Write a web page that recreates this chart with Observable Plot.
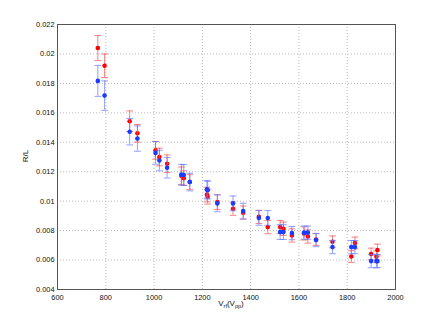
<!DOCTYPE html>
<html>
<head>
<meta charset="utf-8">
<script src="https://cdn.jsdelivr.net/npm/d3@7"></script>
<script src="https://cdn.jsdelivr.net/npm/@observablehq/plot@0.6"></script>
<style>
  html, body { margin: 0; padding: 0; background: #fff; }
  #chart svg { display: block; }
</style>
</head>
<body>
<div id="chart"></div>
<script>
const voltages = [767, 795, 899, 931, 1006, 1022, 1054, 1113, 1123, 1148, 1219, 1222, 1262, 1327, 1369, 1434, 1471, 1522, 1536, 1571, 1621, 1637, 1671, 1739, 1817, 1832, 1899, 1921, 1925];
const redValues = [0.0204, 0.0192, 0.01543, 0.01461, 0.01346, 0.01300, 0.01254, 0.01172, 0.01156, 0.01130, 0.01045, 0.01030, 0.00994, 0.00949, 0.00922, 0.00893, 0.00824, 0.00824, 0.00813, 0.00767, 0.00781, 0.00760, 0.00740, 0.00724, 0.00624, 0.00716, 0.00641, 0.00622, 0.00668];
const blueValues = [0.01817, 0.01717, 0.01472, 0.01425, 0.01328, 0.01276, 0.01227, 0.01180, 0.01178, 0.01130, 0.01080, 0.01075, 0.00985, 0.00985, 0.00933, 0.00886, 0.00886, 0.00790, 0.00790, 0.00783, 0.00786, 0.00786, 0.00736, 0.00688, 0.00688, 0.00688, 0.00593, 0.00593, 0.00593];
const redErrors = [0.00085, 0.0008, 0.0007, 0.0006, 0.0006, 0.0006, 0.0006, 0.0006, 0.0005, 0.0005, 0.0005, 0.0005, 0.0005, 0.00045, 0.00045, 0.00045, 0.00045, 0.00045, 0.00045, 0.00045, 0.00045, 0.00045, 0.0004, 0.0004, 0.0004, 0.0004, 0.0004, 0.0004, 0.0004];
const blueErrors = [0.00105, 0.001, 0.0009, 0.00086, 0.00077, 0.0007, 0.0007, 0.0007, 0.0007, 0.0006, 0.0006, 0.0006, 0.00057, 0.0005, 0.00053, 0.0005, 0.0005, 0.0005, 0.0005, 0.00045, 0.00045, 0.00045, 0.00045, 0.00045, 0.00045, 0.00045, 0.00045, 0.00045, 0.00045];
const xTicks = [600, 800, 1000, 1200, 1400, 1600, 1800, 2000];
const yTicks = [0.004, 0.006, 0.008, 0.01, 0.012, 0.014, 0.016, 0.018, 0.02, 0.022];

const redData = voltages.map((v, i) => ({v, y: redValues[i], e: redErrors[i]}));
const blueData = voltages.map((v, i) => ({v, y: blueValues[i], e: blueErrors[i]}));
const capHalf = 14; // half cap width in x units

function errorMarks(data, barColor, dotColor) {
  return [
    Plot.ruleX(data, {x: "v", y1: d => d.y - d.e, y2: d => d.y + d.e, stroke: barColor, strokeWidth: 1}),
    Plot.link(data, {x1: d => d.v - capHalf, x2: d => d.v + capHalf, y1: d => d.y + d.e, y2: d => d.y + d.e, stroke: barColor, strokeWidth: 1}),
    Plot.link(data, {x1: d => d.v - capHalf, x2: d => d.v + capHalf, y1: d => d.y - d.e, y2: d => d.y - d.e, stroke: barColor, strokeWidth: 1}),
    Plot.dot(data, {x: "v", y: "y", r: 2.3, fill: dotColor, stroke: "none"})
  ];
}

const fmt = d => String(+d.toFixed(3));

const chart = Plot.plot({
  width: 436,
  height: 326,
  marginLeft: 57,
  marginRight: 41,
  marginTop: 24,
  marginBottom: 37,
  style: {fontFamily: "'Liberation Sans', Arial, sans-serif", fontSize: "7.4px", color: "#111", background: "#fff"},
  x: {domain: [600, 2000], ticks: xTicks},
  y: {domain: [0.004, 0.022], ticks: yTicks},
  marks: [
    Plot.gridX(xTicks, {stroke: "#b8b8b8", strokeOpacity: 1, strokeDasharray: "1,2"}),
    Plot.gridY(yTicks, {stroke: "#b8b8b8", strokeOpacity: 1, strokeDasharray: "1,2"}),
    ...errorMarks(redData, "rgba(240,90,90,0.75)", "#ff0000"),
    ...errorMarks(blueData, "rgba(100,120,255,0.7)", "#1a3cff"),
    Plot.axisX({ticks: xTicks, tickSize: 0, tickPadding: 5, tickFormat: d => String(d), label: null}),
    Plot.axisY({ticks: yTicks, tickSize: 0, tickPadding: 3, tickFormat: fmt, label: null}),
    Plot.frame({stroke: "#555", strokeWidth: 1})
  ]
});

document.getElementById("chart").appendChild(chart);

// axis labels with subscripts
const svg = d3.select(chart);
const xl = svg.append("text")
  .attr("x", 231).attr("y", 306)
  .attr("text-anchor", "middle")
  .attr("font-size", 8)
  .attr("fill", "#111");
xl.append("tspan").text("V");
xl.append("tspan").attr("font-size", 5.5).attr("dy", 2).text("rf");
xl.append("tspan").attr("dy", -2).text("(V");
xl.append("tspan").attr("font-size", 5.5).attr("dy", 2).text("pp");
xl.append("tspan").attr("dy", -2).text(")");

svg.append("text")
  .attr("transform", "translate(28,156) rotate(-90)")
  .attr("text-anchor", "middle")
  .attr("font-size", 8)
  .attr("fill", "#111")
  .text("R/L");
</script>
</body>
</html>
